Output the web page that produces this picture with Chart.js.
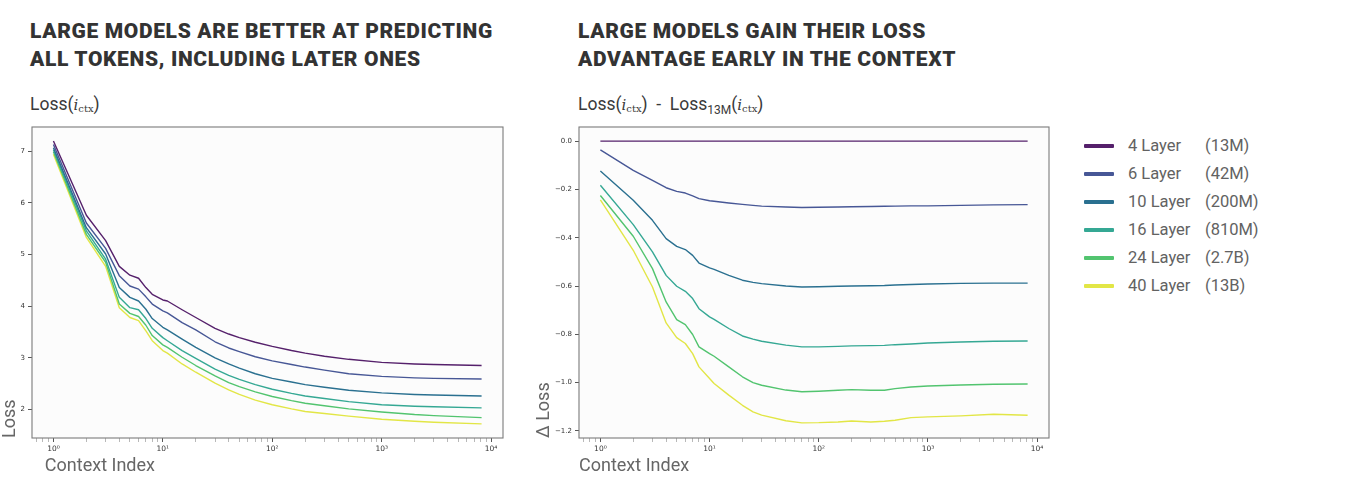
<!DOCTYPE html>
<html>
<head>
<meta charset="utf-8">
<script src="https://cdn.jsdelivr.net/npm/chart.js@4.4.1/dist/chart.umd.min.js"></script>
<style>
  html, body { margin: 0; padding: 0; background: #ffffff; width: 1350px; height: 498px; overflow: hidden; font-family: Roboto, "Noto Sans", sans-serif; }
  .title { position: absolute; top: 17px; font-family: Roboto, sans-serif; font-weight: 900; font-size: 21px; line-height: 28px; letter-spacing: 0.65px; color: #333333; white-space: nowrap; }
  .sub { position: absolute; top: 92px; font-family: Roboto, sans-serif; font-size: 17.5px; line-height: 24px; color: #3a3a3a; white-space: nowrap; }
  .sub .m { font-family: "DejaVu Serif", "Liberation Serif", serif; font-style: italic; font-size: 15px; }
  .sub .ms { font-family: "DejaVu Serif", "Liberation Serif", serif; font-size: 10px; vertical-align: -2px; }
  .sub .rs { font-size: 12px; vertical-align: -4px; }
  .box { position: absolute; }
  .legend-row { position: absolute; left: 1084px; height: 28px; width: 260px; }
  .legend-row .sw { position: absolute; left: 0; top: 12px; width: 30px; height: 4px; border-radius: 1px; }
  .legend-row .nm { position: absolute; left: 44px; top: 0; line-height: 28px; font-size: 16.5px; color: #626262; white-space: nowrap; }
  .legend-row .sz { position: absolute; left: 121px; top: 0; line-height: 28px; font-size: 16.5px; color: #626262; white-space: nowrap; }
</style>
</head>
<body>
<div class="title" style="left:30px">LARGE MODELS ARE BETTER AT PREDICTING<br>ALL TOKENS, INCLUDING LATER ONES</div>
<div class="title" style="left:578px">LARGE MODELS GAIN THEIR LOSS<br>ADVANTAGE EARLY IN THE CONTEXT</div>
<div class="sub" style="left:30px">Loss(<span class="m">i</span><span class="ms">ctx</span>)</div>
<div class="sub" style="left:578px">Loss(<span class="m">i</span><span class="ms">ctx</span>)&nbsp; -&nbsp; Loss<span class="rs">13M</span>(<span class="m">i</span><span class="ms">ctx</span>)</div>

<div class="box" style="left:0px; top:115px; width:520px; height:370px;"><canvas id="lossChart"></canvas></div>
<div class="box" style="left:534px; top:115px; width:530px; height:370px;"><canvas id="deltaChart"></canvas></div>
<div id="legend"></div>

<script>
// ---------- DATA ----------
const seriesNames  = ['4 Layer', '6 Layer', '10 Layer', '16 Layer', '24 Layer', '40 Layer'];
const seriesSizes  = ['(13M)', '(42M)', '(200M)', '(810M)', '(2.7B)', '(13B)'];
const seriesColors = ['#55206b', '#475796', '#2a7090', '#35a894', '#52c46f', '#e2e646'];

// Left panel: Loss vs context index
const ctxLoss  = [1, 2, 3, 4, 5, 6, 7, 8, 10, 11, 15, 20, 30, 40, 50, 70, 100, 150, 200, 300, 500, 1000, 2000, 3000, 8192];
const loss4L   = [7.20, 5.76, 5.27, 4.77, 4.60, 4.54, 4.36, 4.23, 4.12, 4.10, 3.93, 3.78, 3.57, 3.46, 3.39, 3.30, 3.22, 3.14, 3.09, 3.03, 2.97, 2.91, 2.88, 2.87, 2.85];
const loss6L   = [7.13, 5.61, 5.12, 4.59, 4.39, 4.33, 4.18, 4.04, 3.91, 3.87, 3.68, 3.54, 3.31, 3.19, 3.12, 3.02, 2.94, 2.87, 2.82, 2.76, 2.69, 2.64, 2.61, 2.60, 2.59];
const loss10L  = [7.07, 5.52, 5.01, 4.36, 4.17, 4.10, 3.94, 3.76, 3.59, 3.54, 3.36, 3.20, 3.00, 2.88, 2.80, 2.69, 2.60, 2.53, 2.48, 2.43, 2.37, 2.32, 2.29, 2.28, 2.26];
const loss16L  = [7.03, 5.46, 4.91, 4.17, 3.97, 3.93, 3.76, 3.57, 3.39, 3.33, 3.14, 2.99, 2.78, 2.66, 2.58, 2.48, 2.39, 2.31, 2.26, 2.21, 2.15, 2.09, 2.06, 2.05, 2.03];
const loss24L  = [6.99, 5.39, 4.85, 4.04, 3.86, 3.80, 3.63, 3.43, 3.25, 3.20, 3.01, 2.85, 2.65, 2.52, 2.44, 2.34, 2.25, 2.17, 2.12, 2.07, 2.01, 1.95, 1.90, 1.88, 1.84];
const loss40L  = [6.94, 5.33, 4.77, 3.97, 3.78, 3.72, 3.52, 3.33, 3.14, 3.09, 2.88, 2.72, 2.51, 2.38, 2.29, 2.18, 2.09, 2.01, 1.96, 1.92, 1.87, 1.81, 1.77, 1.75, 1.72];

// Right panel: Loss difference to the 13M model
const ctxDelta  = [1, 2, 3, 4, 5, 6, 7, 8, 10, 11, 15, 20, 25, 30, 50, 70, 100, 150, 200, 300, 400, 500, 700, 1000, 2000, 4000, 8192];
const delta4L   = [0, 0, 0, 0, 0, 0, 0, 0, 0, 0, 0, 0, 0, 0, 0, 0, 0, 0, 0, 0, 0, 0, 0, 0, 0, 0, 0];
const delta6L   = [-0.036, -0.121, -0.163, -0.193, -0.208, -0.215, -0.227, -0.238, -0.247, -0.249, -0.256, -0.262, -0.266, -0.269, -0.273, -0.275, -0.274, -0.273, -0.272, -0.271, -0.270, -0.269, -0.268, -0.268, -0.266, -0.264, -0.263];
const delta10L  = [-0.124, -0.245, -0.328, -0.404, -0.436, -0.449, -0.473, -0.505, -0.525, -0.531, -0.556, -0.576, -0.585, -0.590, -0.600, -0.604, -0.603, -0.601, -0.600, -0.599, -0.598, -0.596, -0.594, -0.592, -0.589, -0.588, -0.588];
const delta16L  = [-0.183, -0.346, -0.459, -0.556, -0.601, -0.622, -0.652, -0.694, -0.728, -0.738, -0.776, -0.807, -0.820, -0.829, -0.845, -0.852, -0.852, -0.850, -0.848, -0.847, -0.846, -0.843, -0.840, -0.836, -0.832, -0.829, -0.828];
const delta24L  = [-0.225, -0.394, -0.528, -0.666, -0.739, -0.760, -0.801, -0.852, -0.880, -0.891, -0.935, -0.976, -1.000, -1.011, -1.031, -1.038, -1.036, -1.032, -1.029, -1.032, -1.032, -1.025, -1.018, -1.014, -1.010, -1.007, -1.006];
const delta40L  = [-0.243, -0.452, -0.604, -0.753, -0.814, -0.838, -0.880, -0.935, -0.983, -1.004, -1.052, -1.094, -1.121, -1.135, -1.158, -1.167, -1.166, -1.163, -1.159, -1.163, -1.160, -1.156, -1.145, -1.142, -1.138, -1.131, -1.135];

// Axis ranges and ticks
const ctxRange      = [0.637, 12857];
const lossRange     = [1.446, 7.47];
const deltaRange    = [-1.2295, 0.0585];
const xMajorTicks   = [1, 10, 100, 1000, 10000];
const xMinorSteps   = [2, 3, 4, 5, 6, 7, 8, 9];
const xLowMinor     = [0.7, 0.8, 0.9];
const lossTicks     = [2, 3, 4, 5, 6, 7];
const deltaTicks    = [0.0, -0.2, -0.4, -0.6, -0.8, -1.0, -1.2];
const superDigits   = ['⁰', '¹', '²', '³', '⁴'];

// ---------- HELPERS ----------
const xTickList = (() => {
  const out = xLowMinor.map(v => ({ value: v, major: false }));
  xMajorTicks.forEach((m, i) => {
    out.push({ value: m, major: true });
    if (i < xMajorTicks.length - 1) xMinorSteps.forEach(s => out.push({ value: m * s, major: false }));
  });
  return out;
})();

const framePlugin = {
  id: 'frame',
  beforeDraw(chart) {
    const a = chart.chartArea, c = chart.ctx;
    c.save();
    c.fillStyle = '#fcfcfc';
    c.fillRect(a.left, a.top, a.right - a.left, a.bottom - a.top);
    c.restore();
  },
  afterDraw(chart) {
    const a = chart.chartArea, c = chart.ctx;
    c.save();
    c.strokeStyle = '#7a7a7a';
    c.lineWidth = 1.1;
    c.strokeRect(a.left, a.top, a.right - a.left, a.bottom - a.top);
    c.restore();
  }
};

function buildDatasets(xs, arrays) {
  return arrays.map((ys, i) => ({
    label: seriesNames[i] + ' ' + seriesSizes[i],
    data: xs.map((x, k) => ({ x: x, y: ys[k] })),
    borderColor: seriesColors[i],
    backgroundColor: seriesColors[i],
    borderWidth: 1.4,
    pointRadius: 0,
    tension: 0,
    borderJoinStyle: 'round',
    fill: false
  }));
}

function makeChart(id, xs, arrays, yRange, yTicks, yTitle, yWidth, yFmt, padRight, xTitle) {
  return new Chart(document.getElementById(id), {
    type: 'line',
    data: { datasets: buildDatasets(xs, arrays) },
    plugins: [framePlugin],
    options: {
      responsive: true,
      maintainAspectRatio: false,
      animation: false,
      events: [],
      layout: { padding: { top: 12, right: padRight, bottom: 0, left: 0 } },
      plugins: { legend: { display: false }, tooltip: { enabled: false } },
      scales: {
        x: {
          type: 'logarithmic',
          bounds: 'data',
          min: ctxRange[0],
          max: ctxRange[1],
          afterBuildTicks: s => { s.ticks = xTickList.map(t => ({ value: t.value, major: t.major })); },
          afterFit: s => { s.height = 47; },
          border: { display: false },
          grid: {
            drawOnChartArea: false,
            drawTicks: true,
            tickLength: 4,
            tickColor: ctx => (ctx.tick && ctx.tick.major) ? '#444444' : '#8a8a8a',
            tickWidth: ctx => (ctx.tick && ctx.tick.major) ? 0.9 : 0.6
          },
          ticks: {
            autoSkip: false,
            maxRotation: 0,
            padding: 3,
            color: '#333333',
            font: { family: 'DejaVu Sans', size: 7.5 },
            callback: (v) => {
              const i = xMajorTicks.indexOf(v);
              return i >= 0 ? '10' + superDigits[i] : '';
            }
          },
          title: {
            display: true,
            text: xTitle,
            align: 'start',
            color: '#666666',
            font: { family: 'Roboto', size: 18 },
            padding: { top: 0, bottom: 8 }
          }
        },
        y: {
          type: 'linear',
          bounds: 'data',
          min: yRange[0],
          max: yRange[1],
          afterBuildTicks: s => { s.ticks = yTicks.map(v => ({ value: v })); },
          afterFit: s => { s.width = yWidth; },
          border: { display: false },
          grid: { drawOnChartArea: false, drawTicks: true, tickLength: 4, tickColor: '#444444', tickWidth: 0.9 },
          ticks: {
            autoSkip: false,
            padding: 3,
            color: '#333333',
            font: { family: 'DejaVu Sans', size: 7 },
            callback: yFmt
          },
          title: {
            display: true,
            text: yTitle,
            align: 'start',
            color: '#666666',
            font: { family: 'Roboto', size: 18 },
            padding: { top: 0, bottom: 0 }
          }
        }
      }
    }
  });
}

makeChart('lossChart', ctxLoss, [loss4L, loss6L, loss10L, loss16L, loss24L, loss40L],
  lossRange, lossTicks, 'Loss', 32, v => String(v), 17, '\u2002\u2009Context Index');

makeChart('deltaChart', ctxDelta, [delta4L, delta6L, delta10L, delta16L, delta24L, delta40L],
  deltaRange, deltaTicks, 'Δ Loss', 45,
  v => (v < -1e-9 ? '−' + Math.abs(v).toFixed(1) : Math.abs(v).toFixed(1)), 15, 'Context Index');

// ---------- LEGEND ----------
const legend = document.getElementById('legend');
seriesNames.forEach((name, i) => {
  const row = document.createElement('div');
  row.className = 'legend-row';
  row.style.top = (131.5 + i * 28.1) + 'px';
  row.innerHTML = '<span class="sw" style="background:' + seriesColors[i] + '"></span>' +
                  '<span class="nm">' + name + '</span>' +
                  '<span class="sz">' + seriesSizes[i] + '</span>';
  legend.appendChild(row);
});
</script>
</body>
</html>
